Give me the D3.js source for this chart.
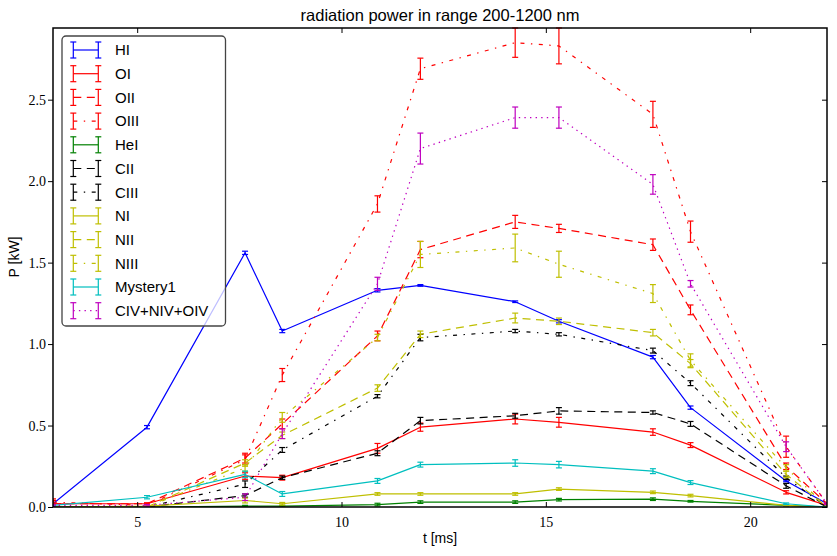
<!DOCTYPE html>
<html>
<head>
<meta charset="utf-8">
<script src="https://cdn.jsdelivr.net/npm/d3@7"></script>
<style>
  html, body { margin: 0; padding: 0; background: #fff; }
  svg { display: block; }
</style>
</head>
<body>
<svg id="chart" width="837" height="556"></svg>
<script>
// ---------- data ----------
const title = "radiation power in range 200-1200 nm";
const xLabel = "t [ms]";
const yLabel = "P [kW]";
const tMs = [2.94, 5.24, 7.64, 8.55, 10.88, 11.93, 14.25, 15.32, 17.62, 18.54, 20.88, 21.88];
const xTicks = [5, 10, 15, 20];
const yTicks = [0.0, 0.5, 1.0, 1.5, 2.0, 2.5];
const seriesNames = ["HI", "OI", "OII", "OIII", "HeI", "CII", "CIII", "NI", "NII", "NIII", "Mystery1", "CIV+NIV+OIV"];

const HI       = [0.02, 0.49, 1.56, 1.08, 1.33, 1.36, 1.26, 1.14, 0.92, 0.61, 0.16, 0.02];
const HI_err   = [0.005, 0.01, 0.01, 0.01, 0.01, 0.005, 0.005, 0.01, 0.01, 0.01, 0.005, 0.005];
const OI       = [0.02, 0.02, 0.19, 0.18, 0.36, 0.49, 0.54, 0.52, 0.46, 0.38, 0.09, 0.01];
const OI_err   = [0.02, 0.005, 0.02, 0.015, 0.03, 0.025, 0.03, 0.03, 0.02, 0.015, 0.01, 0.005];
const OII      = [0.02, 0.02, 0.30, 0.51, 1.05, 1.58, 1.75, 1.71, 1.61, 1.21, 0.25, 0.02];
const OII_err  = [0.02, 0.005, 0.03, 0.03, 0.03, 0.05, 0.04, 0.025, 0.035, 0.03, 0.02, 0.005];
const OIII     = [0.03, 0.01, 0.29, 0.81, 1.86, 2.69, 2.85, 2.83, 2.41, 1.69, 0.37, 0.02];
const OIII_err = [0.02, 0.005, 0.03, 0.04, 0.05, 0.065, 0.09, 0.11, 0.08, 0.065, 0.065, 0.005];
const HeI      = [0.0, 0.0, 0.005, 0.005, 0.015, 0.03, 0.03, 0.045, 0.048, 0.035, 0.01, 0.0];
const HeI_err  = [0.003, 0.003, 0.005, 0.005, 0.008, 0.008, 0.008, 0.008, 0.008, 0.005, 0.003, 0.003];
const CII      = [0.0, 0.0, 0.07, 0.18, 0.33, 0.53, 0.56, 0.59, 0.58, 0.51, 0.13, 0.0];
const CII_err  = [0.003, 0.003, 0.01, 0.01, 0.015, 0.02, 0.015, 0.02, 0.01, 0.015, 0.015, 0.003];
const CIII     = [0.0, 0.0, 0.14, 0.35, 0.68, 1.04, 1.08, 1.06, 0.96, 0.76, 0.18, 0.0];
const CIII_err = [0.003, 0.003, 0.02, 0.015, 0.01, 0.02, 0.01, 0.01, 0.015, 0.015, 0.01, 0.003];
const NI       = [0.0, 0.005, 0.04, 0.02, 0.08, 0.08, 0.08, 0.11, 0.09, 0.07, 0.01, 0.0];
const NI_err   = [0.003, 0.003, 0.015, 0.008, 0.008, 0.008, 0.008, 0.008, 0.008, 0.008, 0.003, 0.003];
const NII      = [0.0, 0.0, 0.27, 0.44, 0.73, 1.06, 1.16, 1.14, 1.07, 0.88, 0.20, 0.0];
const NII_err  = [0.003, 0.003, 0.02, 0.02, 0.02, 0.02, 0.03, 0.02, 0.02, 0.025, 0.02, 0.003];
const NIII     = [0.0, 0.0, 0.24, 0.55, 1.04, 1.55, 1.59, 1.49, 1.31, 0.90, 0.24, 0.0];
const NIII_err = [0.003, 0.003, 0.02, 0.03, 0.02, 0.08, 0.085, 0.08, 0.055, 0.04, 0.02, 0.003];
const Mystery1     = [0.01, 0.06, 0.20, 0.08, 0.16, 0.26, 0.27, 0.26, 0.22, 0.15, 0.02, 0.0];
const Mystery1_err = [0.005, 0.01, 0.02, 0.015, 0.015, 0.015, 0.02, 0.02, 0.015, 0.012, 0.005, 0.003];
const CIVNIVOIV     = [0.01, 0.01, 0.06, 0.45, 1.37, 2.20, 2.39, 2.39, 1.98, 1.37, 0.37, 0.02];
const CIVNIVOIV_err = [0.005, 0.005, 0.02, 0.03, 0.04, 0.095, 0.065, 0.065, 0.06, 0.02, 0.03, 0.005];

const seriesValues = [HI, OI, OII, OIII, HeI, CII, CIII, NI, NII, NIII, Mystery1, CIVNIVOIV];
const seriesErrors = [HI_err, OI_err, OII_err, OIII_err, HeI_err, CII_err, CIII_err, NI_err, NII_err, NIII_err, Mystery1_err, CIVNIVOIV_err];

// ---------- styles ----------
const seriesColors = ["#0000ff", "#ff0000", "#ff0000", "#ff0000", "#008000", "#000000", "#000000",
                      "#bfbf00", "#bfbf00", "#bfbf00", "#00bfbf", "#bf00bf"];
const DASH = {solid: null, dashed: "8,5.5", dashdot: "4,6.5,1.4,6.5", dotted: "1.4,4.2"};
const seriesStyles = ["solid", "solid", "dashed", "dashdot", "solid", "dashed", "dashdot",
                      "solid", "dashed", "dashdot", "solid", "dotted"];

// ---------- layout ----------
const W = 837, H = 556;
const margin = {top: 28, right: 10, bottom: 49, left: 53};
const iw = W - margin.left - margin.right;
const ih = H - margin.top - margin.bottom;

const svg = d3.select("#chart");
const g = svg.append("g").attr("transform", `translate(${margin.left},${margin.top})`);

const yMax = d3.max(seriesValues.map((vals, i) => d3.max(vals.map((v, j) => v + seriesErrors[i][j]))));
const x = d3.scaleLinear().domain([tMs[0], tMs[tMs.length - 1]]).range([0, iw]);
const y = d3.scaleLinear().domain([0, yMax]).range([ih, 0]);

g.append("defs").append("clipPath").attr("id", "clip")
  .append("rect").attr("x", 0).attr("y", -2).attr("width", iw).attr("height", ih + 2);

const plot = g.append("g").attr("clip-path", "url(#clip)");
const line = d3.line().x((d) => x(d[0])).y((d) => y(d[1]));
const capW = 3;
const LW = 1.2;

seriesValues.forEach((vals, i) => {
  const col = seriesColors[i];
  const sg = plot.append("g");
  const pts = tMs.map((t, j) => [t, vals[j]]);
  sg.append("path").datum(pts)
    .attr("d", line)
    .attr("fill", "none")
    .attr("stroke", col)
    .attr("stroke-width", LW)
    .attr("stroke-linejoin", "round")
    .attr("stroke-dasharray", DASH[seriesStyles[i]]);
  const errs = seriesErrors[i];
  tMs.forEach((t, j) => {
    const cx = x(t), y1 = y(vals[j] + errs[j]), y2 = y(vals[j] - errs[j]);
    sg.append("line").attr("x1", cx).attr("x2", cx).attr("y1", y1).attr("y2", y2)
      .attr("stroke", col).attr("stroke-width", LW);
    [y1, y2].forEach((yy) => {
      sg.append("line").attr("x1", cx - capW).attr("x2", cx + capW).attr("y1", yy).attr("y2", yy)
        .attr("stroke", col).attr("stroke-width", LW);
    });
  });
});

// ---------- axes ----------
const tickFont = "'Liberation Serif', 'DejaVu Serif', serif";
const tickLen = 5;
const axB = g.append("g").attr("transform", `translate(0,${ih})`)
  .call(d3.axisBottom(x).tickValues(xTicks).tickSizeInner(-tickLen).tickSizeOuter(0).tickPadding(10).tickFormat(d3.format("d")));
const axT = g.append("g")
  .call(d3.axisTop(x).tickValues(xTicks).tickSizeInner(-tickLen).tickSizeOuter(0).tickFormat(""));
const axL = g.append("g")
  .call(d3.axisLeft(y).tickValues(yTicks).tickSizeInner(tickLen).tickSizeOuter(0).tickPadding(2).tickFormat(d3.format(".1f")));
const axR = g.append("g").attr("transform", `translate(${iw},0)`)
  .call(d3.axisRight(y).tickValues(yTicks).tickSizeInner(-tickLen).tickSizeOuter(0).tickFormat(""));
[axB, axT, axL, axR].forEach((a) => {
  a.select(".domain").remove();
  a.selectAll(".tick line").attr("stroke", "#000").attr("stroke-width", 1);
  a.selectAll("text").attr("font-family", tickFont).attr("font-size", 14).attr("fill", "#000");
});

g.append("rect").attr("x", 0).attr("y", 0).attr("width", iw).attr("height", ih)
  .attr("fill", "none").attr("stroke", "#000").attr("stroke-width", 1.5);

// ---------- labels ----------
const sans = "'Liberation Sans', Arial, Helvetica, sans-serif";
svg.append("text").attr("x", margin.left + iw / 2).attr("y", 21)
  .attr("text-anchor", "middle").attr("font-family", sans).attr("font-size", 16.5).text(title);
svg.append("text").attr("x", margin.left + iw / 2).attr("y", 543)
  .attr("text-anchor", "middle").attr("font-family", sans).attr("font-size", 14).text(xLabel);
svg.append("text").attr("transform", "translate(19,257) rotate(-90)")
  .attr("text-anchor", "middle").attr("font-family", sans).attr("font-size", 14).text(yLabel);

// ---------- legend ----------
const lg = svg.append("g");
lg.append("rect").attr("x", 62).attr("y", 36).attr("width", 163.5).attr("height", 290)
  .attr("rx", 4).attr("ry", 4).attr("fill", "#fff").attr("fill-opacity", 0.75)
  .attr("stroke", "#444").attr("stroke-width", 1.3);
const row0 = 50, rowH = 23.7, hx1 = 73.3, hx2 = 98.3, hh = 8;
seriesNames.forEach((name, i) => {
  const cy = row0 + i * rowH;
  const col = seriesColors[i];
  lg.append("line").attr("x1", hx1).attr("x2", hx2).attr("y1", cy).attr("y2", cy)
    .attr("stroke", col).attr("stroke-width", LW).attr("stroke-dasharray", DASH[seriesStyles[i]]);
  [hx1, hx2].forEach((hx) => {
    lg.append("line").attr("x1", hx).attr("x2", hx).attr("y1", cy - hh).attr("y2", cy + hh)
      .attr("stroke", col).attr("stroke-width", LW);
    [cy - hh, cy + hh].forEach((yy) => {
      lg.append("line").attr("x1", hx - capW).attr("x2", hx + capW).attr("y1", yy).attr("y2", yy)
        .attr("stroke", col).attr("stroke-width", LW);
    });
  });
  lg.append("text").attr("x", 115).attr("y", cy + 5.3)
    .attr("font-family", sans).attr("font-size", 15).attr("fill", "#000").text(name);
});
</script>
</body>
</html>
